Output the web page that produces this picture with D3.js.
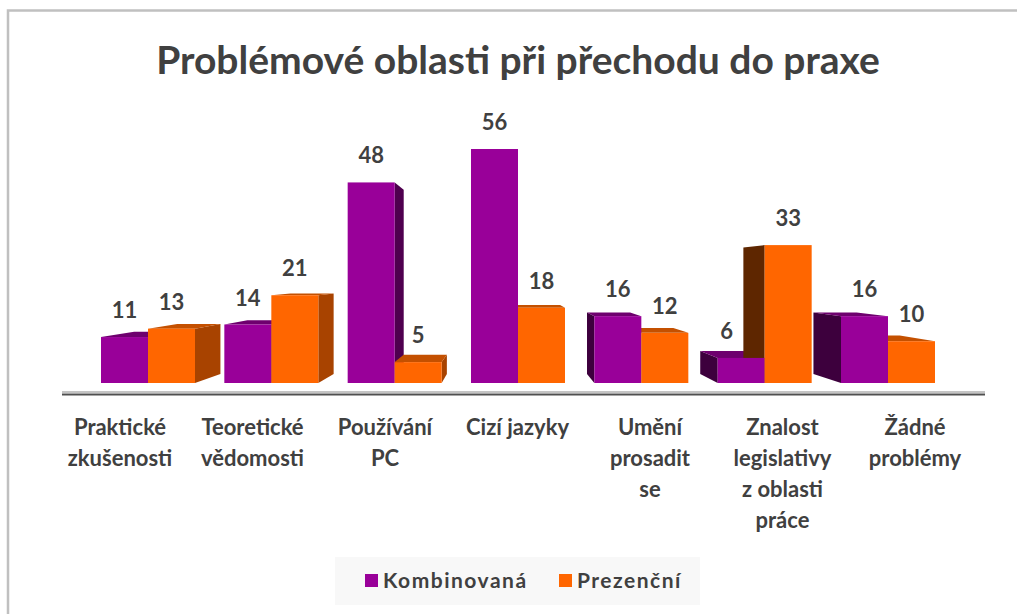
<!DOCTYPE html>
<html>
<head>
<meta charset="utf-8">
<script src="https://cdn.jsdelivr.net/npm/d3@7"></script>
<style>
  body { margin: 0; background: #fff; }
  text { font-family: Lato, "Open Sans", sans-serif; font-weight: bold; fill: #404040; }
</style>
</head>
<body>
<div id="chart"></div>
<script>
// data
const categories = [
  ["Praktické", "zkušenosti"],
  ["Teoretické", "vědomosti"],
  ["Používání", "PC"],
  ["Cizí jazyky"],
  ["Umění", "prosadit", "se"],
  ["Znalost", "legislativy", "z oblasti", "práce"],
  ["Žádné", "problémy"]
];
const seriesNames = ["Kombinovaná", "Prezenční"];
const kombinovana = [11, 14, 48, 56, 16, 6, 16];
const prezencni = [13, 21, 5, 18, 12, 33, 10];

// colours: front, side, top, far side (left of vanishing point)
const PURPLE = { front: "#990099", side: "#4f004f", top: "#6e006e", left: "#3d003d" };
const ORANGE = { front: "#ff6600", side: "#a84300", top: "#c45000", left: "#5e2600" };
const colors = [PURPLE, ORANGE];

const width = 1017, height = 614;
const svg = d3.select("#chart").append("svg")
  .attr("width", width)
  .attr("height", height);

// frame of the chart area
svg.append("path")
  .attr("d", "M8,614 V10.5 H1017")
  .attr("fill", "none")
  .attr("stroke", "#c0c0c0")
  .attr("stroke-width", 2.5);

svg.append("text")
  .attr("x", 518)
  .attr("y", 74)
  .attr("text-anchor", "middle")
  .attr("font-size", 39)
  .text("Problémové oblasti při přechodu do praxe");

const idx = d3.range(categories.length);
const x0 = d3.scalePoint().domain(idx).range([148, 888]);   // bar group centres
const xl = d3.scalePoint().domain(idx).range([120, 915]);   // label centres (perspective)
const x1 = d3.scaleBand().domain([0, 1]).range([-47, 47]);
const y = d3.scaleLinear().domain([0, 56]).range([383, 149]);

// one point perspective: back face = front face pulled toward vanishing point
const V = [505, 273], t = 0.082;
const back = p => [p[0] + t * (V[0] - p[0]), p[1] + t * (V[1] - p[1])];

const bars = [];
idx.forEach(i => {
  [kombinovana[i], prezencni[i]].forEach((v, s) => {
    const xa = x0(i) + x1(s), xb = xa + x1.bandwidth();
    bars.push({ i, s, v, xa, xb, yt: y(v), yb: y(0) });
  });
});

const line = d3.line();
const faces = svg.append("g");
const fronts = svg.append("g");

bars.forEach(b => {
  const c = colors[b.s];
  const tl = [b.xa, b.yt], tr = [b.xb, b.yt], bl = [b.xa, b.yb], br = [b.xb, b.yb];
  if (b.xb < V[0]) {
    faces.append("path").attr("d", line([tr, back(tr), back(br), br]) + "Z").attr("fill", c.side);
  }
  if (b.xa > V[0]) {
    faces.append("path").attr("d", line([tl, back(tl), back(bl), bl]) + "Z").attr("fill", c.left);
  }
  if (b.yt > V[1]) {
    faces.append("path").attr("d", line([tl, tr, back(tr), back(tl)]) + "Z").attr("fill", c.top);
  }
  fronts.append("rect")
    .attr("x", b.xa)
    .attr("y", b.yt)
    .attr("width", b.xb - b.xa)
    .attr("height", b.yb - b.yt)
    .attr("fill", c.front);
});

// value labels
const lab = svg.append("g");
bars.forEach((b, k) => {
  let cx = (b.xa + b.xb) / 2;
  // a taller neighbour's left face would cover the label: move it back toward the top face
  const nb = bars[k + 1];
  if (b.s === 0 && b.xa > V[0] && nb && nb.v > b.v) cx += 0.75 * (back([cx, b.yt])[0] - cx);
  lab.append("text")
    .attr("x", cx)
    .attr("y", b.yt - 19)
    .attr("text-anchor", "middle")
    .attr("font-size", 22)
    .text(b.v);
});

// base line
svg.append("line").attr("x1", 62).attr("x2", 985).attr("y1", 392).attr("y2", 392)
  .attr("stroke", "#b0b0b0").attr("stroke-width", 1.5);
svg.append("line").attr("x1", 62).attr("x2", 985).attr("y1", 394.5).attr("y2", 394.5)
  .attr("stroke", "#505050").attr("stroke-width", 2);

// category labels
const cat = svg.append("g");
categories.forEach((lines, i) => {
  const tx = cat.append("text")
    .attr("text-anchor", "middle")
    .attr("font-size", 22);
  lines.forEach((l, k) => {
    tx.append("tspan").attr("x", xl(i)).attr("y", 435 + k * 31).text(l);
  });
});

// legend
const lg = svg.append("g");
lg.append("rect").attr("x", 335).attr("y", 557).attr("width", 365).attr("height", 48).attr("fill", "#f8f8f8");
const legX = [365, 559];
seriesNames.forEach((n, s) => {
  lg.append("rect").attr("x", legX[s]).attr("y", 574).attr("width", 13).attr("height", 13)
    .attr("fill", colors[s].front);
  lg.append("text").attr("x", legX[s] + 18).attr("y", 588)
    .attr("font-size", 21).attr("letter-spacing", 1.5).text(n);
});
</script>
</body>
</html>
